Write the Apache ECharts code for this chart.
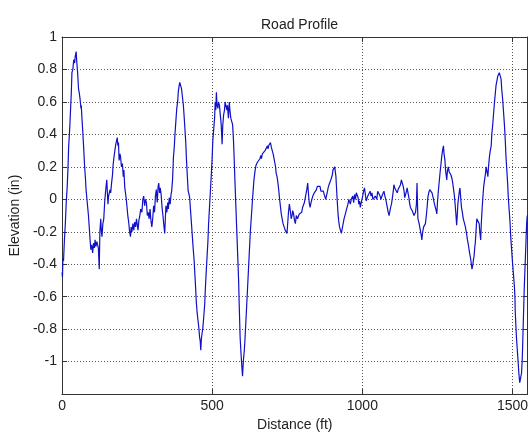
<!DOCTYPE html>
<html>
<head>
<meta charset="utf-8">
<script src="https://cdn.jsdelivr.net/npm/echarts@6/dist/echarts.min.js"></script>
<style>html,body{margin:0;padding:0;background:#fff;}#c{width:531px;height:437px;}</style>
</head>
<body>
<div id="c"></div>
<script>
const distance = [0,1.5,3,5,8,11,14,17,20,22,26,29,31,33,36,39,42,44,47,49,50,52,55,57,60,62,63,64,67,69,72,75,78,80,83,86,88,91,93,96,99,102,105,108,110,113,116,118,121,124,126,129,131,133,136,139,142,145,149,151,153,155,157,160,162,165,168,170,173,176,179,182,184,186,188,190,193,195,198,201,204,206,209,212,214,217,219,222,225,228,230,233,236,239,242,245,248,250,253,256,259,262,266,269,272,275,278,281,284,287,290,293,296,299,302,305,308,311,314,317,320,322,325,327,330,333,336,339,342,344,346,349,352,354,357,360,363,365,368,371,374,376,379,382,385,387,390,392,395,398,401,404,407,409,412,414,417,420,423,425,428,431,434,437,440,442,445,447,450,453,456,458,460,462,464,466,469,472,475,477,480,483,486,488,491,494,497,500,502,505,508,510,512,514,516,519,521,524,527,530,532,533,535,538,541,543,546,549,551,554,557,559,562,565,568,571,573,576,579,582,585,588,590,593,596,598,601,604,607,609,612,615,619,623,627,631,635,639,643,646,648,651,654,656,659,662,664,667,670,673,676,678,681,684,686,688,691,694,697,700,703,705,708,711,713,716,719,722,724,727,730,733,736,740,743,746,749,751,754,757,760,763,766,768,771,774,777,780,784,787,790,793,795,798,801,804,807,809,812,815,818,820,823,826,829,832,835,837,840,844,847,850,853,856,859,862,864,867,870,873,875,878,881,884,886,889,892,895,897,900,902,905,908,910,912,914,916,919,921,924,927,930,933,936,939,942,946,949,952,955,957,960,963,965,968,971,974,977,980,983,986,988,991,993,996,998,1001,1004,1007,1010,1013,1015,1018,1021,1023,1026,1029,1032,1035,1037,1040,1043,1045,1048,1051,1054,1056,1059,1062,1064,1067,1070,1072,1075,1078,1081,1083,1086,1089,1092,1094,1097,1100,1103,1105,1108,1111,1113,1116,1119,1122,1125,1127,1130,1133,1136,1139,1141,1144,1147,1149,1152,1155,1157,1160,1163,1166,1169,1172,1174,1177,1180,1182,1184,1185,1188,1191,1194,1196,1198,1201,1204,1207,1210,1213,1216,1218,1221,1224,1226,1229,1232,1234,1237,1240,1243,1246,1248,1250,1253,1256,1259,1262,1264,1267,1270,1272,1275,1277,1279,1281,1283,1286,1289,1292,1295,1298,1301,1303,1306,1308,1311,1314,1316,1318,1321,1323,1325,1327,1330,1333,1336,1339,1343,1346,1350,1353,1357,1360,1363,1365,1368,1370,1372,1374,1376,1379,1381,1383,1386,1389,1391,1394,1396,1399,1402,1404,1407,1410,1412,1415,1418,1420,1423,1426,1429,1431,1434,1437,1440,1443,1445,1448,1451,1454,1456,1459,1462,1464,1467,1470,1473,1476,1478,1481,1484,1486,1489,1492,1494,1497,1500,1503,1506,1508,1509,1511,1513,1516,1519,1521,1524,1527,1530,1532,1533,1536,1539,1542,1545,1547,1549];
const elevation = [-0.45,-0.48,-0.36,-0.38,-0.25,-0.15,-0.02,0.07,0.2,0.32,0.45,0.58,0.66,0.78,0.8,0.86,0.84,0.88,0.91,0.85,0.84,0.78,0.68,0.66,0.62,0.63,0.56,0.58,0.48,0.42,0.32,0.21,0.13,0.06,0.0,-0.06,-0.1,-0.18,-0.24,-0.31,-0.28,-0.33,-0.27,-0.3,-0.25,-0.29,-0.26,-0.25,-0.3,-0.43,-0.2,-0.12,-0.2,-0.23,-0.15,-0.12,-0.02,0.05,0.12,0.04,-0.03,0.02,0.02,0.06,0.04,0.1,0.15,0.21,0.26,0.3,0.34,0.33,0.38,0.33,0.35,0.24,0.28,0.26,0.2,0.22,0.14,0.18,0.07,0.03,0.0,-0.06,-0.1,-0.14,-0.2,-0.23,-0.17,-0.2,-0.15,-0.19,-0.14,-0.17,-0.12,-0.15,-0.19,-0.13,-0.1,-0.06,-0.08,0.0,0.02,-0.04,0.0,-0.02,-0.1,-0.08,-0.12,-0.06,-0.13,-0.17,-0.12,-0.04,-0.08,0.02,0.06,-0.02,0.08,0.1,0.04,0.07,0.03,-0.05,-0.1,-0.16,-0.21,-0.12,-0.04,-0.08,-0.02,-0.06,0.01,-0.03,0.03,0.05,0.12,0.26,0.33,0.4,0.48,0.56,0.6,0.66,0.7,0.72,0.7,0.68,0.63,0.58,0.5,0.44,0.35,0.26,0.15,0.05,0.03,0.01,-0.07,-0.15,-0.23,-0.31,-0.38,-0.45,-0.55,-0.63,-0.7,-0.75,-0.8,-0.85,-0.87,-0.93,-0.86,-0.83,-0.79,-0.72,-0.65,-0.56,-0.45,-0.35,-0.25,-0.15,-0.05,0.05,0.15,0.26,0.36,0.43,0.5,0.6,0.55,0.66,0.58,0.56,0.6,0.58,0.52,0.46,0.38,0.34,0.45,0.52,0.55,0.6,0.6,0.55,0.58,0.5,0.6,0.55,0.5,0.48,0.46,0.36,0.26,0.1,-0.05,-0.2,-0.35,-0.5,-0.65,-0.85,-0.95,-1.01,-1.09,-0.99,-0.93,-0.87,-0.76,-0.65,-0.5,-0.35,-0.2,-0.09,0.02,0.12,0.18,0.21,0.2,0.23,0.22,0.24,0.25,0.27,0.25,0.28,0.29,0.27,0.3,0.3,0.31,0.33,0.31,0.33,0.33,0.35,0.32,0.3,0.28,0.26,0.23,0.2,0.16,0.14,0.1,0.05,0.01,-0.04,-0.09,-0.12,-0.15,-0.16,-0.19,-0.2,-0.21,-0.16,-0.08,-0.03,-0.07,-0.12,-0.1,-0.07,-0.09,-0.13,-0.15,-0.1,-0.12,-0.11,-0.09,-0.1,-0.08,-0.08,-0.05,-0.04,-0.02,-0.01,0.03,0.06,0.1,0.05,-0.02,-0.05,-0.02,0.0,0.02,0.01,0.04,0.05,0.06,0.08,0.09,0.07,0.08,0.05,0.06,0.04,0.05,0.03,0.03,0.0,-0.01,0.05,0.07,0.09,0.1,0.12,0.13,0.15,0.18,0.17,0.2,0.21,0.14,0.07,0.0,-0.09,-0.13,-0.17,-0.19,-0.21,-0.18,-0.15,-0.12,-0.1,-0.09,-0.05,-0.03,0.0,0.01,-0.03,0.0,-0.01,0.02,-0.02,0.03,0.0,0.04,0.05,0.01,-0.03,-0.01,-0.05,-0.06,-0.06,0.02,0.05,0.07,0.03,-0.01,-0.01,0.02,0.01,0.03,0.05,0.02,0.04,0.0,-0.01,0.01,0.02,0.03,0.0,0.05,0.04,0.06,0.02,0.0,-0.01,0.03,0.02,0.05,0.02,0.0,-0.03,-0.05,-0.08,-0.1,-0.11,-0.05,-0.03,0.01,0.05,0.09,0.07,0.08,0.06,0.04,0.06,0.05,0.07,0.09,0.12,0.1,0.08,0.05,0.01,0.03,0.05,0.07,0.04,0.01,-0.02,-0.05,-0.06,-0.07,-0.08,-0.1,-0.11,-0.08,-0.03,0.1,-0.06,-0.12,-0.14,-0.17,-0.2,-0.22,-0.25,-0.2,-0.17,-0.16,-0.15,-0.1,-0.04,0.01,0.04,0.06,0.07,0.05,0.04,0.03,0.0,-0.03,-0.05,-0.07,-0.09,-0.02,0.05,0.11,0.17,0.22,0.26,0.3,0.33,0.28,0.24,0.18,0.15,0.12,0.17,0.2,0.17,0.18,0.15,0.13,0.1,0.07,0.03,-0.01,-0.08,-0.16,-0.1,-0.03,0.02,0.05,0.07,0.02,-0.05,-0.08,-0.12,-0.14,-0.17,-0.2,-0.25,-0.28,-0.33,-0.36,-0.4,-0.43,-0.4,-0.37,-0.35,-0.3,-0.27,-0.18,-0.12,-0.11,-0.13,-0.15,-0.2,-0.25,-0.15,-0.05,0.03,0.08,0.12,0.16,0.2,0.17,0.14,0.2,0.26,0.3,0.33,0.4,0.46,0.53,0.6,0.66,0.7,0.73,0.76,0.77,0.78,0.76,0.74,0.68,0.62,0.54,0.46,0.36,0.27,0.18,0.09,0.01,-0.07,-0.15,-0.23,-0.31,-0.39,-0.46,-0.53,-0.6,-0.69,-0.77,-0.85,-0.93,-1.01,-1.07,-1.13,-1.1,-1.07,-1.0,-0.95,-0.75,-0.55,-0.4,-0.25,-0.15,-0.1];
const xTicks = [0, 500, 1000, 1500];
const yTicks = [-1, -0.8, -0.6, -0.4, -0.2, 0, 0.2, 0.4, 0.6, 0.8, 1];

const points = distance.map((d, i) => [d, elevation[i]]);
const FONT = 'Liberation Sans, Arial, sans-serif';
const isTick = (arr, v) => arr.some(t => Math.abs(t - v) < 1e-6);
const fmtY = v => isTick(yTicks, v) ? String(+v.toFixed(1)) : '';
const fmtX = v => isTick(xTicks, v) ? String(Math.round(v)) : '';
const axisLine = {show: true, onZero: false, lineStyle: {color: '#333', width: 1}};
const tick = {show: true, inside: true, length: 5, lineStyle: {color: '#333'}};
const grid = {show: true, lineStyle: {color: '#555', type: [1, 2], width: 1}};

const chart = echarts.init(document.getElementById('c'), null, {renderer: 'canvas'});
chart.setOption({
  animation: false,
  backgroundColor: '#fff',
  title: {text: 'Road Profile', left: 256, top: 13,
    textStyle: {fontFamily: FONT, fontSize: 14, fontWeight: 'normal', color: '#222'}},
  grid: {left: 59, right: 1, top: 37, bottom: 36, containLabel: false},
  xAxis: [{
    type: 'value', min: 0, max: 1550, interval: 500, position: 'bottom',
    name: 'Distance (ft)', nameLocation: 'middle', nameGap: 21,
    nameTextStyle: {fontFamily: FONT, fontSize: 14, color: '#222'},
    axisLine, axisTick: tick, splitLine: grid,
    axisLabel: {formatter: fmtX, margin: 5, fontFamily: FONT, fontSize: 14, color: '#222', showMaxLabel: true}
  }, {
    type: 'value', min: 0, max: 1550, interval: 500, position: 'top',
    axisLine, axisTick: tick, splitLine: {show: false}, axisLabel: {show: false}
  }],
  yAxis: [{
    type: 'value', min: -1.2, max: 1, interval: 0.2, position: 'left',
    name: 'Elevation (in)', nameLocation: 'middle', nameGap: 36,
    nameTextStyle: {fontFamily: FONT, fontSize: 14, color: '#222'},
    axisLine, axisTick: tick, splitLine: grid,
    axisLabel: {formatter: fmtY, margin: 5, fontFamily: FONT, fontSize: 14, color: '#222'}
  }, {
    type: 'value', min: -1.2, max: 1, interval: 0.2, position: 'right',
    axisLine, axisTick: tick, splitLine: {show: false}, axisLabel: {show: false}
  }],
  series: [{
    type: 'line', data: points, xAxisIndex: 0, yAxisIndex: 0,
    showSymbol: false, symbol: 'none',
    lineStyle: {color: '#1010c8', width: 1.2}
  }]
});
</script>
</body>
</html>
